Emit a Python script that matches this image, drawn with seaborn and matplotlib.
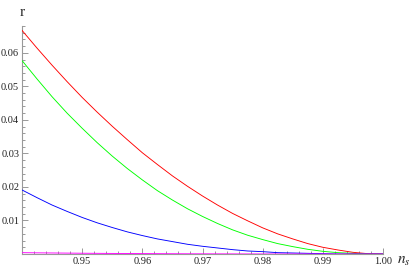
import pandas as pd
import matplotlib
matplotlib.use("Agg")
import matplotlib.pyplot as plt
import seaborn as sns
from matplotlib.ticker import MultipleLocator

# spectral index n_s
ns = [0.94, 0.9425, 0.945, 0.9475, 0.95, 0.9525, 0.955, 0.9575, 0.96, 0.9625,
      0.965, 0.9675, 0.97, 0.9725, 0.975, 0.9775, 0.98, 0.9825, 0.985, 0.9875,
      0.99, 0.9925, 0.995, 0.9975, 1.0]

# tensor-to-scalar ratio r
r_red = [0.0667, 0.0614, 0.0563, 0.0514, 0.0467, 0.0423, 0.0381, 0.0341, 0.0302, 0.0267,
         0.0233, 0.0202, 0.0173, 0.0146, 0.0121, 0.0099, 0.0078, 0.0060, 0.0045, 0.0031,
         0.0020, 0.0012, 0.0005, 0.0001, 0.0]
r_green = [0.0577, 0.0522, 0.0469, 0.0420, 0.0375, 0.0332, 0.0292, 0.0255, 0.0221, 0.0189,
           0.0161, 0.0135, 0.0112, 0.0091, 0.0072, 0.0056, 0.0043, 0.0031, 0.0022, 0.0014,
           0.0008, 0.0004, 0.0002, 0.0, 0.0]
r_blue = [0.0191, 0.0168, 0.0146, 0.0127, 0.0109, 0.0093, 0.0079, 0.0066, 0.0055, 0.0045,
          0.0037, 0.0029, 0.0023, 0.0018, 0.0013, 0.0009, 0.0007, 0.0004, 0.0003, 0.0002,
          0.0001, 0.0, 0.0, 0.0, 0.0]
r_magenta = [0.0004, 0.00035, 0.00031, 0.00027, 0.00023, 0.0002, 0.00017, 0.00014, 0.00012, 0.0001,
             0.00008, 0.00006, 0.00005, 0.00004, 0.00003, 0.00002, 0.000015, 0.00001, 0.000006, 0.000004,
             0.000002, 0.000001, 0.0, 0.0, 0.0]

xticks = [0.95, 0.96, 0.97, 0.98, 0.99, 1.00]
xtick_labels = ["0.95", "0.96", "0.97", "0.98", "0.99", "1.00"]
yticks = [0.01, 0.02, 0.03, 0.04, 0.05, 0.06]
ytick_labels = ["0.01", "0.02", "0.03", "0.04", "0.05", "0.06"]

df = pd.DataFrame({"ns": ns, "red": r_red, "green": r_green,
                   "blue": r_blue, "magenta": r_magenta})
df = df.melt(id_vars="ns", var_name="curve", value_name="r")

sns.set_theme(style="white")
plt.rcParams["font.family"] = ["Liberation Serif", "DejaVu Serif"]
plt.rcParams["mathtext.fontset"] = "stix"

fig = plt.figure(figsize=(4.15, 2.70), dpi=100)
ax = fig.add_axes([22 / 415, 16 / 270, 361 / 415, 228 / 270])

palette = {"red": "#ff0000", "green": "#00ff00", "blue": "#0000ff", "magenta": "#ff00ff"}
sns.lineplot(data=df, x="ns", y="r", hue="curve", palette=palette,
             linewidth=0.65, legend=False, ax=ax, zorder=3)

ax.set_xlim(0.94, 1.0)
ax.set_ylim(0, 0.068)

# Mathematica-like axes: only left and bottom, gray
for side in ["top", "right"]:
    ax.spines[side].set_visible(False)
for side in ["left", "bottom"]:
    ax.spines[side].set_color("#999999")
    ax.spines[side].set_linewidth(0.8)

ax.set_xticks(xticks)
ax.set_xticklabels(xtick_labels)
ax.set_yticks(yticks)
ax.set_yticklabels(ytick_labels)
ax.xaxis.set_minor_locator(MultipleLocator(0.002))
ax.yaxis.set_minor_locator(MultipleLocator(0.002))
ax.tick_params(which="both", direction="in", color="#999999", width=0.7,
               labelsize=7.5, labelcolor="#222222", pad=2)
ax.tick_params(which="major", length=4)
ax.tick_params(which="minor", length=2)
ax.tick_params(axis="both", which="both", bottom=True, left=True)

ax.set_xlabel("")
ax.set_ylabel("")
fig.text(22 / 415, 1 - 12 / 270, "r", fontsize=11, ha="center", va="center", color="#222222")
fig.text(404 / 415, 1 - 261 / 270, "$n_s$", fontsize=11, ha="center", va="center", color="#222222")

fig.savefig("out.png", dpi=100)
